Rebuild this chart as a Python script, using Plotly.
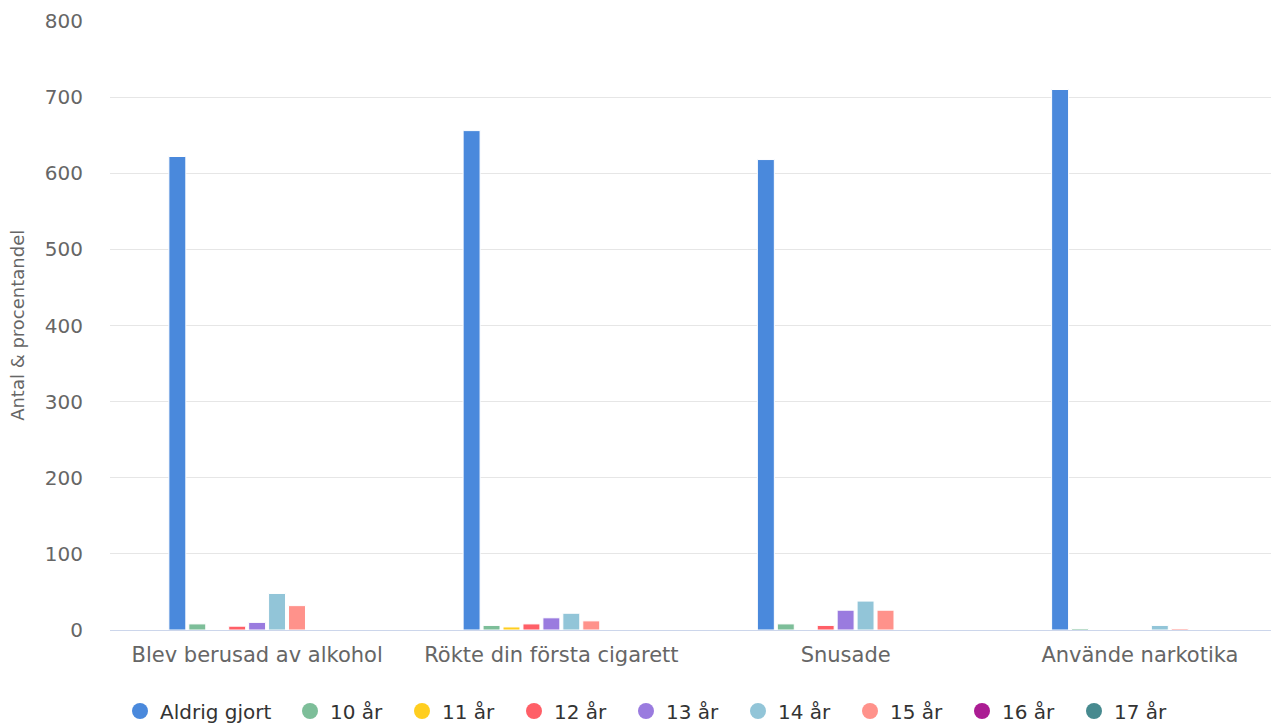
import plotly.graph_objects as go

categories = ["Blev berusad av alkohol", "Rökte din första cigarett", "Snusade", "Använde narkotika"]
series_names = ["Aldrig gjort", "10 år", "11 år", "12 år", "13 år", "14 år", "15 år", "16 år", "17 år"]
aldrig_gjort = [622, 656, 618, 710]
ar_10 = [8, 6, 8, 2]
ar_11 = [0, 4, 0, 0]
ar_12 = [5, 8, 6, 0]
ar_13 = [10, 16, 26, 0]
ar_14 = [48, 22, 38, 6]
ar_15 = [32, 12, 26, 2]
ar_16 = [0, 0, 0, 0]
ar_17 = [0, 0, 0, 0]
colors = ["#4A89DC", "#7DBE99", "#FFCE1F", "#FF5F67", "#9A7BDF", "#92C5D8", "#FF928B", "#AB1C93", "#478A8F"]

series_values = [aldrig_gjort, ar_10, ar_11, ar_12, ar_13, ar_14, ar_15, ar_16, ar_17]

# page has an 8px body margin; offset the figure so it lines up with the window
OFF = 8
W, H = 1279, 725 - OFF
L, R, T = 110 - OFF, 0, 21 - OFF
B = H - T - (630 - 21)

fig = go.Figure()
for name, vals, col in zip(series_names, series_values, colors):
    fig.add_trace(go.Bar(name=name, x=categories, y=vals, showlegend=False,
                         marker=dict(color=col, line=dict(color="white", width=1))))
# legend entries with round symbols
for i, (name, col) in enumerate(zip(series_names, colors)):
    fig.add_trace(go.Scatter(name=name, x=[None], y=[None], mode="markers",
                             legend="legend" if i == 0 else "legend2",
                             marker=dict(symbol="circle", size=16, color=col), showlegend=True))

font = "DejaVu Sans"
leg_y = 1 - (711 - OFF) / H
fig.update_layout(
    width=W, height=H,
    paper_bgcolor="white", plot_bgcolor="white",
    margin=dict(l=L, r=R, t=T, b=B),
    barmode="group", bargap=0.39, bargroupgap=0.15,
    font=dict(family=font, color="#666666"),
    xaxis=dict(showgrid=False, showline=True, linecolor="#ccd6eb", linewidth=1, automargin=False,
               tickfont=dict(size=21, color="#666666"), ticks="", ticklen=0, ticklabelstandoff=6),
    yaxis=dict(range=[0, 800], dtick=100, showgrid=True, gridcolor="#e6e6e6", gridwidth=1,
               zeroline=False, automargin=False, tickfont=dict(size=20, color="#666666"),
               ticklabelstandoff=26),
    legend=dict(orientation="h", xref="container", yref="container",
                x=(120 - OFF) / W, xanchor="left", y=leg_y, yanchor="middle",
                font=dict(size=20, color="#333333"), traceorder="normal"),
    legend2=dict(orientation="h", xref="container", yref="container",
                 x=(290 - OFF) / W, xanchor="left", y=leg_y, yanchor="middle",
                 entrywidthmode="pixels", entrywidth=67,
                 font=dict(size=20, color="#333333"), traceorder="normal"),
    annotations=[dict(text="Antal & procentandel", textangle=-90, xref="paper", yref="paper",
                      x=(18 - 110) / (1279 - 110), y=0.5, xanchor="center", yanchor="middle",
                      showarrow=False, font=dict(size=18, color="#666666"))],
    showlegend=True,
)
fig.write_html("out.html")
